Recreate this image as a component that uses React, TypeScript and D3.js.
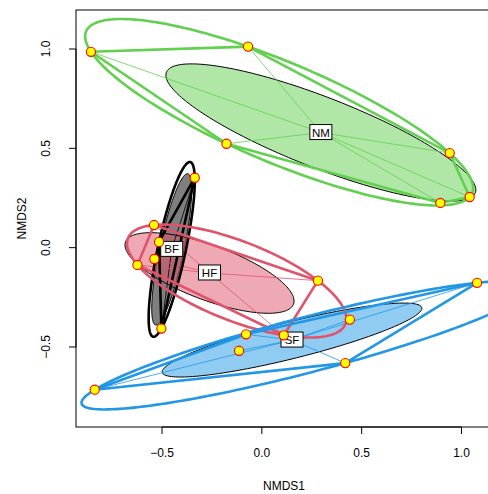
import React from "react";
import * as d3 from "d3";

// ---- data (NMDS site scores) ----
const groups = ["BF", "HF", "NM", "SF"];
const groupColors = ["#000000", "#DF536B", "#61D04F", "#2297E6"];
const groupFills = ["rgba(0,0,0,0.5)", "rgba(223,83,107,0.5)", "rgba(97,208,79,0.5)", "rgba(34,151,230,0.5)"];
const siteGroup = [
  "NM", "NM", "NM", "NM", "NM", "NM",
  "BF", "BF", "BF",
  "HF", "HF", "HF", "HF", "HF",
  "SF", "SF", "SF", "SF", "SF", "SF",
];
const nmds1 = [
  -0.856, -0.069, -0.177, 0.941, 0.894, 1.041,
  -0.336, -0.515, -0.503,
  -0.54, -0.538, -0.623, 0.281, 0.11,
  -0.837, -0.079, -0.114, 1.078, 0.418, 0.441,
];
const nmds2 = [
  0.986, 1.012, 0.523, 0.476, 0.225, 0.255,
  0.352, 0.029, -0.407,
  0.114, -0.057, -0.087, -0.166, -0.441,
  -0.715, -0.436, -0.519, -0.177, -0.581, -0.362,
];
const xTicks = [-0.5, 0, 0.5, 1.0];
const yTicks = [-0.5, 0, 0.5, 1.0];
const xTickLabels = ["\u22120.5", "0.0", "0.5", "1.0"];
const yTickLabels = ["\u22120.5", "0.0", "0.5", "1.0"];

type Pt = [number, number];

function covOf(pts: Pt[], w: number[]) {
  let cx = 0, cy = 0;
  pts.forEach((p, i) => { cx += w[i] * p[0]; cy += w[i] * p[1]; });
  let sxx = 0, syy = 0, sxy = 0;
  pts.forEach((p, i) => {
    const dx = p[0] - cx, dy = p[1] - cy;
    sxx += w[i] * dx * dx; syy += w[i] * dy * dy; sxy += w[i] * dx * dy;
  });
  return { cx, cy, sxx, syy, sxy };
}

function ellipsePoints(cx: number, cy: number, sxx: number, syy: number, sxy: number, scale: number): Pt[] {
  const a = Math.sqrt(Math.max(sxx, 1e-12));
  const b = sxy / a;
  const c = Math.sqrt(Math.max(syy - b * b, 1e-12));
  const out: Pt[] = [];
  for (let i = 0; i < 180; i++) {
    const t = (i / 180) * 2 * Math.PI;
    const u = Math.cos(t), v = Math.sin(t);
    out.push([cx + scale * a * u, cy + scale * (b * u + c * v)]);
  }
  return out;
}

function inv3(m: number[][]) {
  const [a, b, c] = m[0], [d, e, f] = m[1], [g, h, i] = m[2];
  const A = e * i - f * h, B = -(d * i - f * g), C = d * h - e * g;
  const det = a * A + b * B + c * C;
  return [
    [A / det, -(b * i - c * h) / det, (b * f - c * e) / det],
    [B / det, (a * i - c * g) / det, -(a * f - c * d) / det],
    [C / det, -(a * h - b * g) / det, (a * e - b * d) / det],
  ];
}

// minimum-area enclosing ellipse (Khachiyan)
function ehull(pts: Pt[]): Pt[] {
  const n = pts.length;
  let u = pts.map(() => 1 / n);
  for (let it = 0; it < 5000; it++) {
    const X = [[0, 0, 0], [0, 0, 0], [0, 0, 0]];
    pts.forEach((p, k) => {
      const q = [p[0], p[1], 1];
      for (let i = 0; i < 3; i++) for (let j = 0; j < 3; j++) X[i][j] += u[k] * q[i] * q[j];
    });
    const Xi = inv3(X);
    let best = -1, jm = 0;
    pts.forEach((p, k) => {
      const q = [p[0], p[1], 1];
      let s = 0;
      for (let i = 0; i < 3; i++) for (let j = 0; j < 3; j++) s += q[i] * Xi[i][j] * q[j];
      if (s > best) { best = s; jm = k; }
    });
    const step = (best - 3) / (3 * (best - 1));
    if (step < 1e-9) break;
    u = u.map((v, k) => (1 - step) * v + (k === jm ? step : 0));
  }
  const cv = covOf(pts, u);
  return ellipsePoints(cv.cx, cv.cy, cv.sxx, cv.syy, cv.sxy, Math.sqrt(2));
}

const W = 488, H = 494;
const L = 76, T = 10, R = 492, B = 427;

export default function App() {
  const x = d3.scaleLinear().domain([-0.5, 1.0]).range([162, 461.5]);
  const y = d3.scaleLinear().domain([-0.5, 1.0]).range([347, 49]);
  const line = d3.line<Pt>().x((d) => x(d[0])).y((d) => y(d[1])).curve(d3.curveLinearClosed);

  const data = groups.map((g, gi) => {
    const pts: Pt[] = [];
    siteGroup.forEach((s, i) => { if (s === g) pts.push([nmds1[i], nmds2[i]]); });
    const n = pts.length;
    const cvb = covOf(pts, pts.map(() => 1 / n));
    const f = n / (n - 1);
    const sd = ellipsePoints(cvb.cx, cvb.cy, cvb.sxx * f, cvb.syy * f, cvb.sxy * f, 1);
    const hull = d3.polygonHull(pts) as Pt[];
    const eh = ehull(pts);
    return { g, color: groupColors[gi], fill: groupFills[gi], pts, cx: cvb.cx, cy: cvb.cy, sd, hull, eh };
  });

  return (
    <svg width={W} height={H} style={{ position: "absolute", left: 0, top: 0, background: "#fff" }}
      fontFamily="'Liberation Sans', Arial, sans-serif">
      <defs>
        <clipPath id="plot"><rect x={L} y={T} width={R - L} height={B - T} /></clipPath>
      </defs>
      <g clipPath="url(#plot)">
        {data.map((d, i) => (
          <path key={"sd" + i} d={line(d.sd) || ""} fill={d.fill} stroke="#000" strokeWidth={1} />
        ))}
        {data.map((d, i) => (
          <g key={"sp" + i}>
            {d.pts.map((p, k) => (
              <line key={k} x1={x(d.cx)} y1={y(d.cy)} x2={x(p[0])} y2={y(p[1])} stroke={d.color} strokeWidth={0.8} />
            ))}
          </g>
        ))}
        {data.map((d, i) => (
          <g key={"th" + i} fill="none" stroke={d.color} strokeWidth={2.6} strokeLinejoin="round">
            <path d={line(d.hull) || ""} />
            <path d={line(d.eh) || ""} />
          </g>
        ))}
        {data.map((d, i) => {
          const tw = d.g.length * 8 + 6;
          return (
            <g key={"lb" + i}>
              <rect x={x(d.cx) - tw / 2} y={y(d.cy) - 8} width={tw} height={15} fill="#fff" stroke="#000" strokeWidth={1} />
              <text x={x(d.cx)} y={y(d.cy) + 4} textAnchor="middle" fontSize={11.5}>{d.g}</text>
            </g>
          );
        })}
        {nmds1.map((v, i) => (
          <circle key={"pt" + i} cx={x(v)} cy={y(nmds2[i])} r={4.6} fill="#FFFF00" stroke="#FF0000" strokeWidth={1.1} />
        ))}
      </g>
      <rect x={L} y={T} width={R - L} height={B - T} fill="none" stroke="#000" strokeWidth={1} />
      <g>
        <line x1={x(xTicks[0])} x2={x(xTicks[xTicks.length - 1])} y1={B} y2={B} stroke="#000" />
        {xTicks.map((t, i) => (
          <g key={"xt" + i}>
            <line x1={x(t)} x2={x(t)} y1={B} y2={B + 7} stroke="#000" />
            <text x={x(t)} y={B + 30} textAnchor="middle" fontSize={12}>{xTickLabels[i]}</text>
          </g>
        ))}
        <line x1={L} x2={L} y1={y(yTicks[0])} y2={y(yTicks[yTicks.length - 1])} stroke="#000" />
        {yTicks.map((t, i) => (
          <g key={"yt" + i}>
            <line x1={L - 7} x2={L} y1={y(t)} y2={y(t)} stroke="#000" />
            <text transform={`translate(${L - 26},${y(t)}) rotate(-90)`} textAnchor="middle" fontSize={12}>{yTickLabels[i]}</text>
          </g>
        ))}
        <text x={(L + R) / 2} y={490} textAnchor="middle" fontSize={12}>NMDS1</text>
        <text transform={`translate(26,${(T + B) / 2}) rotate(-90)`} textAnchor="middle" fontSize={12}>NMDS2</text>
      </g>
    </svg>
  );
}
